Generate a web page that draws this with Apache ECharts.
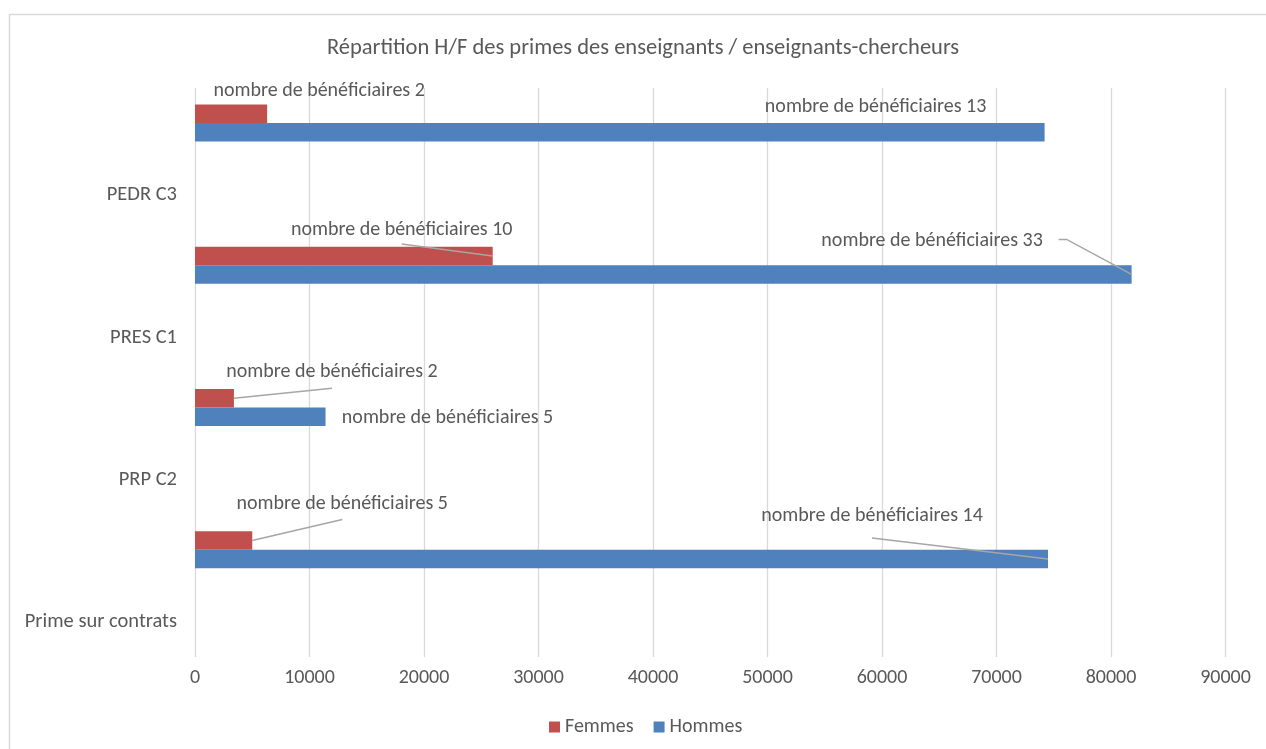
<!DOCTYPE html>
<html><head><meta charset="utf-8">
<script src="https://cdn.jsdelivr.net/npm/echarts@6/dist/echarts.min.js"></script>
<style>html,body{margin:0;padding:0;background:#fff}#c{width:1266px;height:749px}</style>
</head><body><div id="c"></div>
<script>
// ---- data ----
const categories = ['Prime sur contrats', 'PRP C2', 'PRES C1', 'PEDR C3'];
const femmesMontant = [5000, 3400, 26000, 6300];
const hommesMontant = [74500, 11400, 81800, 74200];
const femmesNombre = [5, 2, 10, 2];
const hommesNombre = [14, 5, 33, 13];
const xTickMin = 0, xTickMax = 90000, xTickStep = 10000;
const legendNames = ['Femmes', 'Hommes'];
const titleText = 'Répartition H/F des primes des enseignants / enseignants-chercheurs';
const labelPrefix = 'nombre de bénéficiaires ';

// ---- label placement (styling): offset of label centre from bar end, leader line points rel. to label centre ----
const femmesLabelPos = [
  {dx: 90, dy: -36, lead: [[0, 15]]},
  {dx: 98, dy: -26, lead: [[0, 16]]},
  {dx: -91, dy: -26, lead: [[0, 14]]},
  {dx: 52, dy: -22.5, lead: null}
];
const hommesLabelPos = [
  {dx: -176, dy: -43, lead: [[0, 22]]},
  {dx: 122, dy: 1, lead: null},
  {dx: -199.5, dy: -33, lead: [[126.5, -2], [134.5, -2]]},
  {dx: -169, dy: -25.5, lead: null}
];

const FONT = 'Carlito, Calibri, Lato, sans-serif';
const TXT = '#595959';
const leaderStore = {};

function makeLayout(posArr, key) {
  return function (p) {
    const r = p.rect;
    const ex = r.x + r.width, ey = r.y + r.height / 2;
    const cfg = posArr[p.dataIndex];
    const cx = ex + cfg.dx, cy = ey + cfg.dy;
    if (cfg.lead) {
      const pts = cfg.lead.map(o => [cx + o[0], cy + o[1]]);
      pts.push([ex, ey]);
      leaderStore[key + p.dataIndex] = pts;
    }
    return {x: cx, y: cy, align: 'center', verticalAlign: 'middle'};
  };
}

function barSeries(name, values, counts, color, posArr) {
  return {
    type: 'bar', name: name, barWidth: 18.5, barGap: '0%',
    itemStyle: {color: color},
    data: values,
    label: {
      show: true, position: 'right', color: TXT, fontFamily: FONT, fontSize: 20,
      formatter: (p) => labelPrefix + counts[p.dataIndex]
    },
    labelLine: {show: false},
    labelLayout: makeLayout(posArr, name)
  };
}

const frame = {
  type: 'rect', id: 'frame', shape: {x: 9.5, y: 14.5, width: 1400, height: 900},
  style: {fill: null, stroke: '#D9D9D9', lineWidth: 1.5}, silent: true, z: -1
};

const chart = echarts.init(document.getElementById('c'), null, {renderer: 'canvas'});
chart.setOption({
  backgroundColor: '#fff',
  animation: false,
  textStyle: {fontFamily: FONT},
  title: {
    text: titleText, left: 327, top: 37, padding: 0,
    textStyle: {color: TXT, fontSize: 22.5, fontWeight: 'normal', fontFamily: FONT}
  },
  legend: {
    data: legendNames, left: 549, top: 717, padding: 0, icon: 'rect', itemWidth: 11, itemHeight: 11, itemGap: 20,
    textStyle: {color: TXT, fontSize: 20, fontFamily: FONT}
  },
  graphic: [frame],
  grid: {left: 195, right: 40.5, top: 88, bottom: 92, containLabel: false},
  xAxis: {
    type: 'value', min: xTickMin, max: xTickMax, interval: xTickStep,
    axisLine: {show: false}, axisTick: {show: false},
    splitLine: {show: true, lineStyle: {color: '#D9D9D9', width: 1.3}},
    axisLabel: {color: TXT, fontSize: 20, fontFamily: FONT, margin: 11, formatter: (v) => String(v)}
  },
  yAxis: {
    type: 'category', data: categories,
    axisLine: {show: false}, axisTick: {show: false}, splitLine: {show: false},
    axisLabel: {color: TXT, fontSize: 20.5, fontFamily: FONT, margin: 18, lineHeight: 72, interval: 0,
      hideOverlap: false, formatter: (v) => '\n' + v}
  },
  series: [
    barSeries('Femmes', femmesMontant, femmesNombre, '#C0504D', femmesLabelPos),
    barSeries('Hommes', hommesMontant, hommesNombre, '#4F81BD', hommesLabelPos),
    {type: 'bar', name: 'spacer', data: [], barWidth: 72.4, barGap: '0%', silent: true}
  ]
});

const leaders = Object.keys(leaderStore).map(k => ({
  type: 'polyline', id: 'lead-' + k, shape: {points: leaderStore[k]},
  style: {fill: null, stroke: '#A6A6A6', lineWidth: 1.5}, silent: true, z: 10
}));
chart.setOption({graphic: [frame].concat(leaders)});
</script></body></html>
